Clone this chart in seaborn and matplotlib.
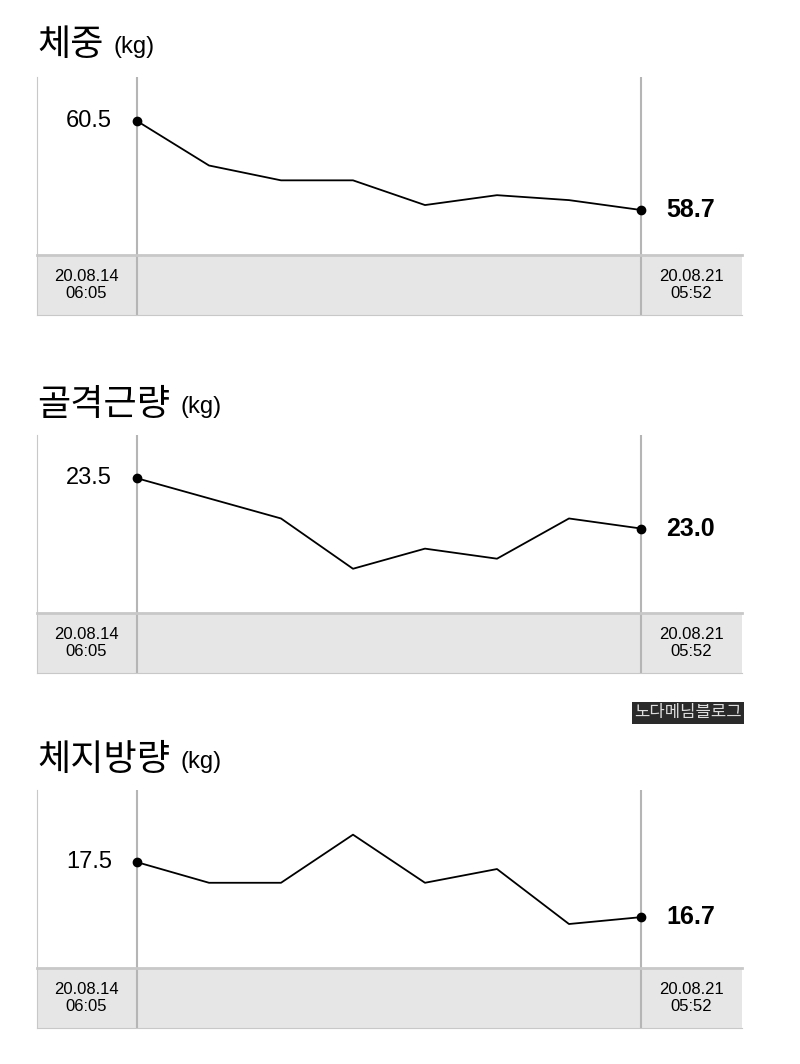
"""Recreate body composition trend panels (weight, muscle, fat)."""

import matplotlib
matplotlib.use("Agg")
import matplotlib.pyplot as plt
import seaborn as sns
import pandas as pd

# Data
weight = [60.5, 59.6, 59.3, 59.3, 58.8, 59.0, 58.9, 58.7]
muscle = [23.5, 23.3, 23.1, 22.6, 22.8, 22.7, 23.1, 23.0]
fat = [17.5, 17.2, 17.2, 17.9, 17.2, 17.4, 16.6, 16.7]
titles = ["체중", "골격근량", "체지방량"]
start_label = "20.08.14\n06:05"
end_label = "20.08.21\n05:52"

W, H = 800, 1064

sns.set_style("white")
KR = ["Noto Sans CJK KR", "Noto Sans CJK JP", "Noto Sans CJK SC", "Noto Sans CJK TC"]
plt.rcParams["font.family"] = "sans-serif"
plt.rcParams["font.sans-serif"] = ["Liberation Sans"] + KR + ["DejaVu Sans"]
plt.rcParams["text.color"] = "black"

fig = plt.figure(figsize=(W / 100, H / 100), dpi=100)


def px(x0, y0, x1, y1):
    """Pixel box -> figure fraction rect."""
    return [x0 / W, 1 - y1 / H, (x1 - x0) / W, (y1 - y0) / H]


panels = [
    (titles[0], weight, 77, (57.79, 61.39), 45),
    (titles[1], muscle, 435, (22.16, 23.93), 405),
    (titles[2], fat, 790, (15.96, 18.55), 760),
]

xlim = (-1.389, 8.403)

for title, vals, top, ylim, ty in panels:
    df = pd.DataFrame({"idx": range(len(vals)), "val": vals})

    # Line chart area
    ax = fig.add_axes(px(37, top, 742, top + 178))
    sns.lineplot(data=df, x="idx", y="val", ax=ax, color="black", linewidth=1.3)
    ax.plot([0, len(vals) - 1], [vals[0], vals[-1]], "o", color="black", markersize=6)
    ax.set_xlim(*xlim)
    ax.set_ylim(*ylim)
    for x in (0, len(vals) - 1):
        ax.axvline(x, color="#b5b5b5", linewidth=1.5, zorder=0)
    for s in ("top", "right", "bottom"):
        ax.spines[s].set_visible(False)
    ax.spines["left"].set_color("#c8c8c8")
    ax.set_xticks([])
    ax.set_yticks([])
    ax.set_xlabel("")
    ax.set_ylabel("")
    ax.text(-0.35, vals[0], f"{vals[0]:.1f}", ha="right", va="center", fontsize=17)
    ax.text(len(vals) - 1 + 0.35, vals[-1], f"{vals[-1]:.1f}", ha="left", va="center",
            fontsize=18, fontweight="bold")

    # Gray date band
    bx = fig.add_axes(px(37, top + 178, 742, top + 238))
    bx.set_facecolor("#e6e6e6")
    bx.set_xlim(*xlim)
    bx.set_ylim(0, 1)
    for x in (0, len(vals) - 1):
        bx.axvline(x, color="#b5b5b5", linewidth=1.5)
    for s in bx.spines.values():
        s.set_color("#c8c8c8")
    bx.spines["top"].set_linewidth(2)
    bx.spines["right"].set_visible(False)
    bx.set_xticks([])
    bx.set_yticks([])
    bx.text(-0.7, 0.5, start_label, ha="center", va="center", fontsize=12, linespacing=1.1)
    bx.text(len(vals) - 1 + 0.7, 0.5, end_label, ha="center", va="center", fontsize=12,
            linespacing=1.1)

    # Title
    t = fig.text(37 / W, 1 - ty / H, title, fontsize=26, family=KR, va="center", ha="left")
    fig.canvas.draw()
    bb = t.get_window_extent()
    fig.text((bb.x1 + 10) / W, 1 - (ty + 2) / H, "(kg)", fontsize=17, va="center", ha="left")

# Watermark
fig.text(688 / W, 1 - 713 / H, "노다메님블로그", fontsize=12, family=KR, color="#dddddd",
         ha="center", va="center",
         bbox=dict(boxstyle="square,pad=0.15", facecolor="#2a2a2a", edgecolor="none"))

fig.savefig("out.png", dpi=100)
